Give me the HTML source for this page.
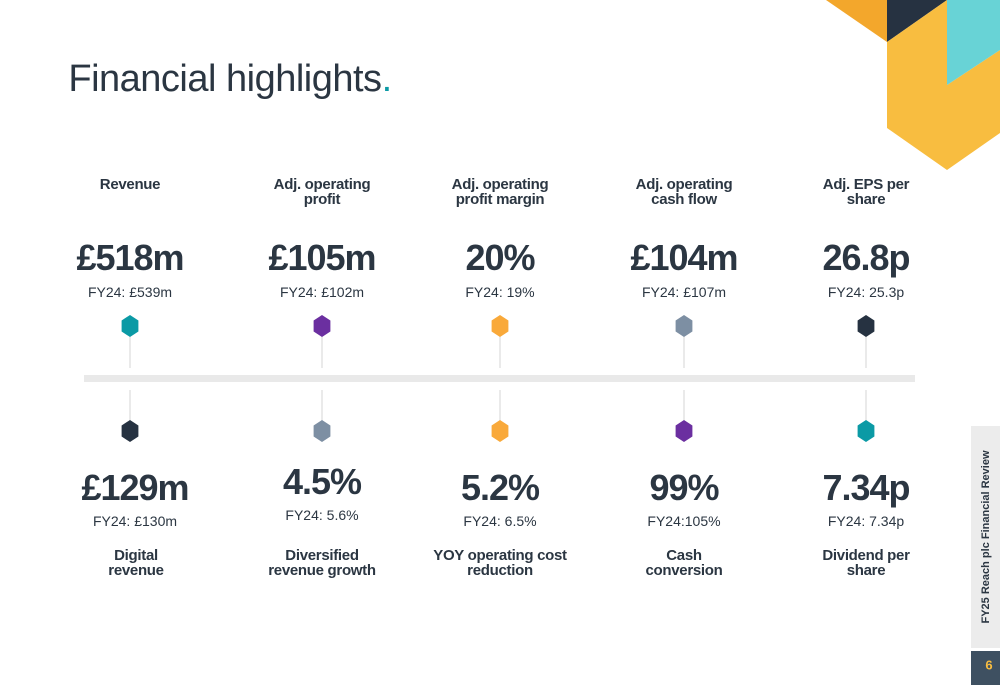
<!DOCTYPE html>
<html><head><meta charset="utf-8"><style>
body{margin:0;width:1000px;height:685px;background:#fff;position:relative;overflow:hidden;font-family:"Liberation Sans",sans-serif;color:#2b3642}
.a{position:absolute;text-align:center;transform:translateX(-50%);white-space:nowrap}
.lbl{font-weight:bold;font-size:15px;line-height:15px;letter-spacing:-0.3px}
.big{font-weight:bold;font-size:36px;letter-spacing:-1px;line-height:36px}
.sub{font-size:14px;line-height:14px}
</style></head><body>
<svg width="1000" height="685" style="position:absolute;left:0;top:0">
<polygon points="826,0 887,0 887,42" fill="#f3a72c"/>
<polygon points="887,0 947,0 887,42" fill="#263241"/>
<polygon points="887,42 947,0 947,85 1000,50 1000,133 947,170 887,128" fill="#f8bd40"/>
<polygon points="947,0 1000,0 1000,50 947,85" fill="#68d3d6"/>
<rect x="84" y="375" width="831" height="7" fill="#e9e9e9"/>
<g id="pins"></g>
<rect x="971" y="426" width="29" height="222" fill="#ececec"/>
<rect x="971" y="651" width="29" height="34" fill="#3e5061"/>
<text x="989" y="666" font-size="13" font-weight="bold" fill="#f8bd40" text-anchor="middle" dominant-baseline="middle" font-family="Liberation Sans">6</text>
<text transform="translate(989,537) rotate(-90)" font-size="11" font-weight="bold" fill="#2b3642" text-anchor="middle" font-family="Liberation Sans">FY25 Reach plc Financial Review</text>
</svg>
<div class="a" style="left:230px;top:58px;font-size:38px;color:#2b3642;font-weight:300;letter-spacing:-0.5px">Financial highlights<span style="color:#0b9aa5">.</span></div>
<div id="items"></div>
<script>
const xs=[130,322,500,684,866];
const topLabels=["Revenue","Adj. operating<br>profit","Adj. operating<br>profit margin","Adj. operating<br>cash flow","Adj. EPS per<br>share"];
const topValues=["£518m","£105m","20%","£104m","26.8p"];
const topPrior=["FY24: £539m","FY24: £102m","FY24: 19%","FY24: £107m","FY24: 25.3p"];
const topColors=["#0b9aa5","#6b2fa0","#f9a93a","#7d8fa3","#263241"];
const botValues=["£129m","4.5%","5.2%","99%","7.34p"];
const botPrior=["FY24: £130m","FY24: 5.6%","FY24: 6.5%","FY24:105%","FY24: 7.34p"];
const botLabels=["Digital<br>revenue","Diversified<br>revenue growth","YOY operating cost<br>reduction","Cash<br>conversion","Dividend per<br>share"];
const botColors=["#263241","#7d8fa3","#f9a93a","#6b2fa0","#0b9aa5"];
const botOffsets=[6,-8,0,0,0];
const NS="http://www.w3.org/2000/svg";
const pins=document.getElementById('pins');
function hex(cx,cy,c){const r=11;let p=[];for(let i=0;i<6;i++){const a=Math.PI/180*(60*i-90);p.push((cx+r*0.88*Math.cos(a)).toFixed(1)+","+(cy+r*Math.sin(a)).toFixed(1));}
const h=document.createElementNS(NS,'polygon');h.setAttribute('points',p.join(' '));h.setAttribute('fill',c);


pins.appendChild(h);}
function line(x,y1,y2){const l=document.createElementNS(NS,'line');l.setAttribute('x1',x);l.setAttribute('x2',x);l.setAttribute('y1',y1);l.setAttribute('y2',y2);l.setAttribute('stroke','#d5d5d5');l.setAttribute('stroke-width','1');


pins.appendChild(l);}
const items=document.getElementById('items');
function add(x,y,cls,html,name){const d=document.createElement('div');d.className='a '+cls;d.style.left=x+'px';d.style.top=y+'px';d.innerHTML=html;


items.appendChild(d);}
xs.forEach((x,i)=>{
 line(x,326,368);hex(x,326,topColors[i]);
 line(x,390,431);hex(x,431,botColors[i]);
 add(x,topLabels[i].includes('<br>')?177:177,'lbl',topLabels[i],'top-metric-label');
 add(x,240,'big',topValues[i],'top-metric-value');
 add(x,285,'sub',topPrior[i],'top-metric-prior');
 const o=botOffsets[i];
 add(x+(i===0?5:0),470+(i===1?-6:0),'big',botValues[i],'bottom-metric-value');
 add(x+(i===0?5:0),514+(i===1?-6:0),'sub',botPrior[i],'bottom-metric-prior');
 add(x+(i===0?6:0),548,'lbl',botLabels[i],'bottom-metric-label');
});
</script>
</body></html>
